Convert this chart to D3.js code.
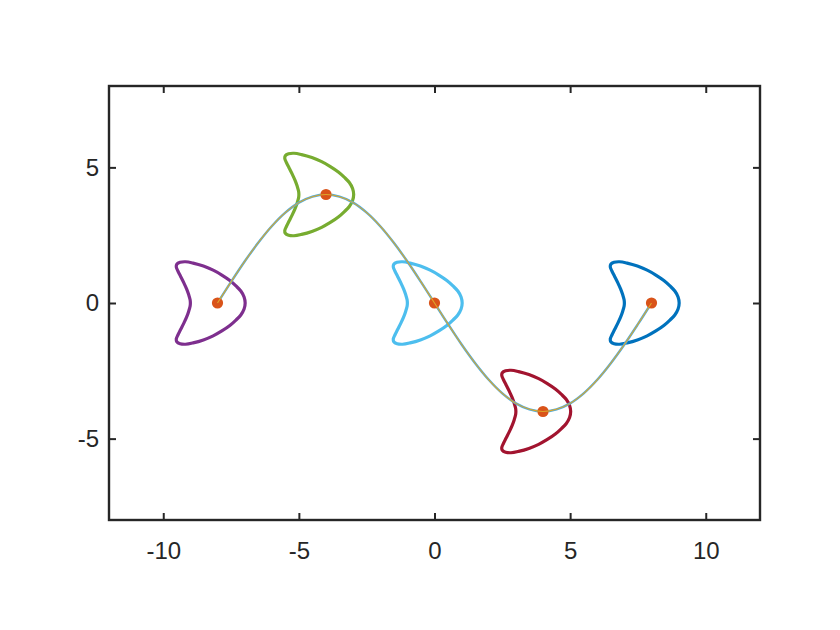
<!DOCTYPE html>
<html>
<head>
<meta charset="utf-8">
<script src="https://cdn.jsdelivr.net/npm/d3@7"></script>
<style>
  html, body { margin: 0; padding: 0; background: #fff; }
  svg { display: block; }
</style>
</head>
<body>
<svg id="chart" width="840" height="630"></svg>
<script>
// ---- data ----
const xTicks = [-10, -5, 0, 5, 10];
const yTicks = [-5, 0, 5];
const xDomain = [-12, 12];
const yDomain = [-8, 8];

// path traced by the markers
const pathX = [-8, -7.5, -7, -6.5, -6, -5.5, -5, -4.5, -4, -3.5, -3, -2.5, -2, -1.5, -1, -0.5,
               0, 0.5, 1, 1.5, 2, 2.5, 3, 3.5, 4, 4.5, 5, 5.5, 6, 6.5, 7, 7.5, 8];
const pathY = [0, 0.78, 1.53, 2.22, 2.83, 3.33, 3.70, 3.92, 4, 3.92, 3.70, 3.33, 2.83, 2.22, 1.53, 0.78,
               0, -0.78, -1.53, -2.22, -2.83, -3.33, -3.70, -3.92, -4, -3.92, -3.70, -3.33, -2.83, -2.22, -1.53, -0.78, 0];

// marker positions
const markX = [-8, -4, 0, 4, 8];
const markY = [0, 4, 0, -4, 0];
const markColors = ["#7E2F8E", "#77AC30", "#4DBEEE", "#A2142F", "#0072BD"];

// crescent outline (offsets in data units), upper half then lower half
const shapeDX = [1.02, 0.98, 0.86, 0.68, 0.455, 0.16, -0.16, -0.52, -0.90, -1.18, -1.38, -1.50, -1.52, -1.46, -1.36, -1.24, -1.14, -1.06, -1.01,
                 -1.00,
                 -1.01, -1.06, -1.14, -1.24, -1.36, -1.46, -1.52, -1.50, -1.38, -1.18, -0.90, -0.52, -0.16, 0.16, 0.455, 0.68, 0.86, 0.98];
const shapeDY = [0, 0.22, 0.44, 0.63, 0.83, 1.03, 1.21, 1.36, 1.47, 1.52, 1.50, 1.43, 1.33, 1.18, 0.98, 0.74, 0.52, 0.30, 0.12,
                 0,
                 -0.12, -0.30, -0.52, -0.74, -0.98, -1.18, -1.33, -1.43, -1.50, -1.52, -1.47, -1.36, -1.21, -1.03, -0.83, -0.63, -0.44, -0.22];

// ---- layout ----
const svg = d3.select("#chart");
const L = 109, R = 760, T = 86, B = 520;
const x = d3.scaleLinear().domain(xDomain).range([L, R]);
const y = d3.scaleLinear().domain(yDomain).range([B, T]);
const axisColor = "#262626";
const font = "'Liberation Sans', Arial, Helvetica, sans-serif";
const fmt = d => String(d);

// shapes
const shapeLine = d3.line().curve(d3.curveCatmullRomClosed.alpha(0.5));
markX.forEach((cx, i) => {
  const cy = markY[i];
  const pts = shapeDX.map((dx, j) => [x(cx + dx), y(cy + shapeDY[j])]);
  svg.append("path")
    .attr("d", shapeLine(pts))
    .attr("fill", "none")
    .attr("stroke", markColors[i])
    .attr("stroke-width", 3.2)
    .attr("stroke-linejoin", "round");
});

// trajectory
const pathPts = pathX.map((v, i) => [x(v), y(pathY[i])]);
const curveLine = d3.line().curve(d3.curveCatmullRom.alpha(0.5));
svg.append("path")
  .attr("d", curveLine(pathPts))
  .attr("fill", "none")
  .attr("stroke", "#4FACDC")
  .attr("stroke-width", 2.4);

// markers
svg.selectAll("circle.mark")
  .data(markX)
  .enter().append("circle")
  .attr("class", "mark")
  .attr("cx", d => x(d))
  .attr("cy", (d, i) => y(markY[i]))
  .attr("r", 5.6)
  .attr("fill", "#D95319");

svg.append("path")
  .attr("d", curveLine(pathPts))
  .attr("fill", "none")
  .attr("stroke", "#DDA62C")
  .attr("stroke-width", 1.1);

// axes
const g = svg.append("g");
const tickLen = 7;
const xb = d3.axisBottom(x).tickValues(xTicks).tickSizeInner(-tickLen).tickSizeOuter(0).tickPadding(22).tickFormat(fmt);
const xt = d3.axisTop(x).tickValues(xTicks).tickSizeInner(-tickLen).tickSizeOuter(0).tickFormat("");
const yl = d3.axisLeft(y).tickValues(yTicks).tickSizeInner(-tickLen).tickSizeOuter(0).tickPadding(10).tickFormat(fmt);
const yr = d3.axisRight(y).tickValues(yTicks).tickSizeInner(-tickLen).tickSizeOuter(0).tickFormat("");

function style(sel) {
  sel.select(".domain").remove();
  sel.selectAll(".tick line").attr("stroke", axisColor).attr("stroke-width", 2);
  sel.selectAll(".tick text").attr("fill", axisColor).attr("font-family", font).attr("font-size", 24);
}
g.append("g").attr("transform", `translate(0,${B})`).call(xb).call(style);
g.append("g").attr("transform", `translate(0,${T})`).call(xt).call(style);
g.append("g").attr("transform", `translate(${L},0)`).call(yl).call(style);
g.append("g").attr("transform", `translate(${R},0)`).call(yr).call(style);

// box
g.append("rect")
  .attr("x", L).attr("y", T).attr("width", R - L).attr("height", B - T)
  .attr("fill", "none").attr("stroke", axisColor).attr("stroke-width", 2.4);
</script>
</body>
</html>
